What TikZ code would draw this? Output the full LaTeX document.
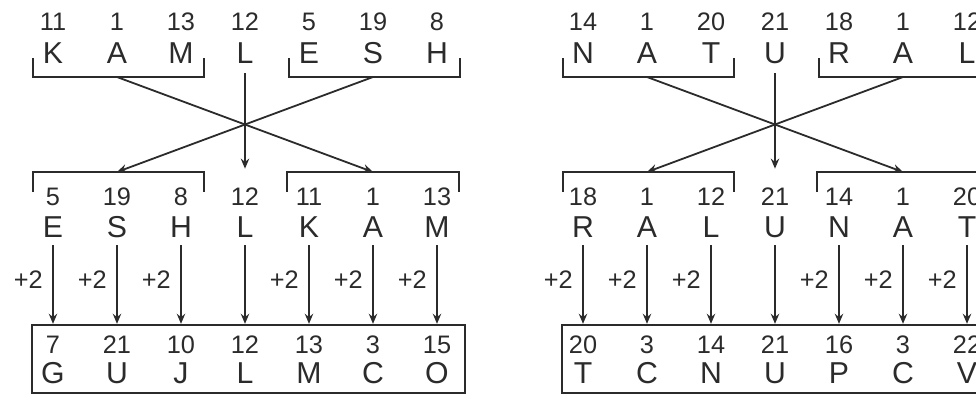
\documentclass[tikz,border=0pt]{standalone}
\usepackage{fontspec}
\setmainfont{Liberation Sans}
\usetikzlibrary{arrows.meta}
\definecolor{ink}{HTML}{2B2B2B}

\tikzset{
  numtxt/.style={font=\fontsize{18}{20}\selectfont,text=ink,inner sep=0pt,anchor=base},
  chartxt/.style={font=\fontsize{21.5}{24}\selectfont,text=ink,inner sep=0pt,anchor=base},
  plustxt/.style={font=\fontsize{18}{20}\selectfont,text=ink,inner sep=0pt,anchor=base east},
  brack/.style={line width=0.6mm,line join=miter,ink},
  link/.style={line width=0.45mm,ink,-{Stealth[length=2.5mm,width=2.1mm]}},
  resbox/.style={draw=ink,line width=0.6mm,minimum width=108.25mm,minimum height=17mm,inner sep=0pt}
}

\begin{document}
\begin{tikzpicture}[x=0.25mm,y=-0.25mm]
  \clip (0,0) rectangle (976,395);
  \foreach \p/\dx/\tl/\bl/\rl in {
    1/0/{K/11,A/1,M/13,L/12,E/5,S/19,H/8}/{E/5,S/19,H/8,L/12,K/11,A/1,M/13}/{G/7,U/21,J/10,L/12,M/13,C/3,O/15},
    2/530/{N/14,A/1,T/20,U/21,R/18,A/1,L/12}/{R/18,A/1,L/12,U/21,N/14,A/1,T/20}/{T/20,C/3,N/14,U/21,P/16,C/3,V/22}}{
  \begin{scope}[xshift=\dx*0.25mm]
    % top word
    \foreach \ch/\n [count=\i] in \tl {
      \node[numtxt] (tn\p-\i) at ({53+64*(\i-1)},30) {\n};
      \node[chartxt] (t\p-\i) at ({53+64*(\i-1)},63) {\ch};
    }
    \draw[brack] (33,58) -- (33,77) -- (204,77) -- (204,58);
    \draw[brack] (289,58) -- (289,77) -- (460,77) -- (460,58);
    \coordinate (tl\p) at (117,77);
    \coordinate (tr\p) at (373,77);

    % swapped word
    \foreach \ch/\n [count=\i] in \bl {
      \node[numtxt] (bn\p-\i) at ({53+64*(\i-1)},205) {\n};
      \node[chartxt] (b\p-\i) at ({53+64*(\i-1)},237) {\ch};
    }
    \draw[brack] (33,192) -- (33,172) -- (204,172) -- (204,192);
    \draw[brack] (287,192) -- (287,172) -- (459,172) -- (459,192);
    \coordinate (bl\p) at (117,172);
    \coordinate (br\p) at (373,172);

    % crossing
    \draw[link] (tl\p) -- (br\p);
    \draw[link] (tr\p) -- (bl\p);
    \draw[link] ([yshift=-2.5mm]t\p-4.base) -- ([yshift=4.6mm]bn\p-4.north);

    % result
    \node[resbox] (box\p) at (248.5,359) {};
    \foreach \ch/\n [count=\i] in \rl {
      \node[numtxt] (rn\p-\i) at ({53+64*(\i-1)},353) {\n};
      \node[chartxt] (r\p-\i) at ({53+64*(\i-1)},383) {\ch};
      \draw[link] ([yshift=-2mm]b\p-\i.base) -- (b\p-\i |- box\p.north);
      \ifnum\i=4\else
        \node[plustxt] (pl\p-\i) at ({43+64*(\i-1)},288) {+2};
      \fi
    }
  \end{scope}
  }
\end{tikzpicture}
\end{document}
